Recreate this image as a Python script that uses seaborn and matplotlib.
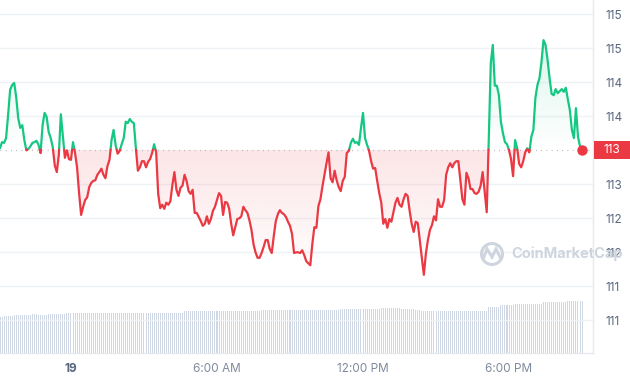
import numpy as np
import pandas as pd
import matplotlib
matplotlib.use("Agg")
import matplotlib.pyplot as plt
import seaborn as sns
from matplotlib.path import Path
from matplotlib.patches import Rectangle, Circle, PathPatch
from matplotlib.transforms import blended_transform_factory, IdentityTransform
from matplotlib.colors import to_rgb

# precio cada 5 minutos (18 21:05 -> 19 20:55)
prices = [
    113.53, 113.62, 113.61, 113.68, 114.02, 114.39, 114.46, 114.49, 114.28, 113.97,
    113.83, 113.87, 113.65, 113.50, 113.52, 113.56, 113.61, 113.62, 113.64, 113.58,
    113.46, 113.87, 114.05, 113.99, 113.77, 113.68, 113.55, 113.28, 113.18, 113.43,
    114.03, 113.71, 113.39, 113.50, 113.37, 113.36, 113.62, 113.46, 113.25, 112.87,
    112.55, 112.67, 112.77, 112.81, 112.96, 113.02, 113.05, 113.06, 113.14, 113.18,
    113.23, 113.14, 113.09, 113.27, 113.36, 113.65, 113.80, 113.58, 113.45, 113.49,
    113.59, 113.68, 113.92, 113.90, 113.96, 113.92, 113.90, 113.53, 113.20, 113.25,
    113.34, 113.34, 113.25, 113.33, 113.37, 113.46, 113.59, 113.47, 112.86, 112.65,
    112.70, 112.64, 112.73, 112.70, 112.75, 112.99, 113.18, 112.92, 112.83, 112.95,
    112.98, 113.14, 113.05, 112.90, 112.86, 112.92, 112.58, 112.58, 112.52, 112.46,
    112.39, 112.42, 112.53, 112.42, 112.49, 112.61, 112.67, 112.77, 112.87, 112.83,
    112.55, 112.74, 112.73, 112.64, 112.42, 112.25, 112.37, 112.49, 112.50, 112.53,
    112.67, 112.62, 112.58, 112.47, 112.33, 112.12, 112.00, 111.92, 111.92, 111.99,
    112.08, 112.18, 112.18, 112.05, 111.99, 112.24, 112.46, 112.56, 112.62, 112.58,
    112.56, 112.52, 112.45, 112.39, 112.27, 111.99, 112.00, 112.00, 111.99, 112.03,
    111.96, 111.87, 111.84, 111.81, 112.12, 112.37, 112.36, 112.68, 112.78, 112.97,
    113.14, 113.31, 113.47, 113.09, 113.03, 113.20, 113.06, 112.96, 112.90, 113.05,
    113.11, 113.46, 113.49, 113.61, 113.67, 113.61, 113.62, 113.58, 113.83, 114.05,
    113.68, 113.58, 113.49, 113.34, 113.23, 113.24, 113.05, 112.87, 112.73, 112.42,
    112.49, 112.36, 112.49, 112.45, 112.59, 112.73, 112.80, 112.70, 112.67, 112.78,
    112.86, 112.83, 112.61, 112.42, 112.30, 112.45, 112.43, 112.18, 111.92, 111.67,
    111.98, 112.18, 112.33, 112.40, 112.53, 112.47, 112.78, 112.67, 112.67, 112.77,
    113.14, 113.25, 113.31, 113.25, 113.31, 113.34, 113.34, 113.06, 112.78, 112.70,
    113.17, 113.09, 112.93, 112.93, 112.87, 112.86, 112.89, 112.98, 113.18, 112.89,
    112.59, 113.65, 114.78, 115.05, 114.45, 114.45, 114.31, 113.92, 113.75, 113.62,
    113.59, 113.50, 113.37, 113.12, 113.65, 113.53, 113.30, 113.25, 113.34, 113.47,
    113.53, 113.47, 113.70, 113.80, 114.27, 114.46, 114.56, 114.80, 115.12, 115.05,
    114.83, 114.56, 114.33, 114.31, 114.40, 114.34, 114.37, 114.40, 114.36, 114.42,
    114.25, 114.09, 113.80, 113.68, 114.12, 113.70, 113.56, 113.50,
]

# volumen (M)
volumes = [
    18.2, 18.2, 18.3, 18.7, 18.7, 18.6, 18.7, 18.8, 19.0, 19.0, 19.1, 19.0,
    19.0, 19.0, 19.1, 19.0, 19.5, 19.5, 19.4, 19.0, 19.0, 19.1, 19.0, 19.0,
    19.4, 19.4, 19.3, 19.4, 19.4, 19.4, 19.3, 19.4, 19.4, 19.9, 19.9, 19.8,
    19.9, 19.9, 19.9, 19.8, 19.9, 19.9, 19.9, 19.9, 19.8, 19.9, 19.9, 19.9,
    19.9, 19.8, 19.9, 19.9, 19.9, 19.9, 19.8, 19.9, 19.9, 19.9, 19.9, 19.8,
    19.9, 19.9, 19.9, 19.9, 19.8, 19.9, 19.9, 19.9, 19.9, 19.8, 19.9, 19.9,
    19.9, 19.9, 19.8, 19.9, 19.9, 19.9, 19.9, 19.8, 19.9, 19.9, 19.9, 19.9,
    19.8, 19.9, 19.9, 19.9, 19.9, 19.9, 19.9, 21.0, 21.0, 20.9, 21.0, 21.0,
    21.0, 21.0, 20.9, 21.0, 21.0, 21.0, 21.0, 20.9, 21.0, 21.0, 21.0, 21.0,
    20.9, 21.0, 21.0, 21.0, 21.0, 20.9, 21.0, 21.0, 21.0, 21.0, 20.9, 21.0,
    21.0, 21.0, 21.0, 20.9, 21.0, 21.0, 21.0, 21.0, 20.9, 21.5, 21.5, 21.4,
    21.5, 21.5, 21.5, 21.5, 21.4, 21.5, 21.5, 21.5, 21.5, 21.4, 21.5, 21.5,
    21.5, 21.5, 21.4, 21.5, 21.5, 21.5, 21.5, 21.4, 21.5, 21.5, 21.5, 21.5,
    21.4, 21.5, 21.5, 21.5, 21.5, 21.4, 21.5, 21.5, 21.5, 21.5, 21.4, 21.5,
    22.0, 22.0, 21.9, 22.0, 22.0, 22.0, 22.0, 21.9, 22.0, 22.0, 22.0, 22.0,
    21.9, 22.0, 22.0, 22.0, 22.0, 21.9, 22.0, 22.0, 22.5, 22.5, 22.4, 22.5,
    22.5, 22.5, 22.5, 22.4, 22.5, 22.5, 22.0, 22.0, 21.9, 22.0, 22.0, 22.0,
    22.0, 21.5, 21.5, 21.5, 21.0, 21.0, 20.9, 21.0, 21.0, 21.0, 21.0, 20.9,
    21.0, 21.0, 21.0, 21.0, 20.9, 21.0, 21.0, 21.0, 21.0, 20.9, 21.0, 21.0,
    21.0, 21.0, 20.9, 21.0, 21.0, 21.0, 21.0, 20.9, 21.0, 21.0, 21.0, 21.0,
    21.0, 23.2, 23.2, 23.1, 23.2, 23.2, 23.2, 23.9, 23.9, 23.8, 23.9, 23.9,
    23.9, 23.9, 24.5, 24.5, 24.4, 24.5, 24.5, 24.5, 24.5, 24.4, 24.5, 24.5,
    24.5, 24.5, 24.4, 24.5, 25.4, 25.4, 25.3, 25.4, 25.4, 25.4, 25.4, 25.3,
    25.4, 25.4, 25.4, 25.4, 26.0, 26.0, 25.9, 26.0, 26.0, 26.0, 26.0, 26.0,
]

ref_price = 113.51
start_time = "2024-01-18 21:05"
y_ticks = [111.0, 111.5, 112.0, 112.5, 113.0, 114.0, 114.5, 115.0, 115.5]
x_tick_times = ["2024-01-19 00:00", "2024-01-19 06:00", "2024-01-19 12:00", "2024-01-19 18:00"]
x_tick_labels = ["19", "6:00 AM", "12:00 PM", "6:00 PM"]

GREEN = "#16c784"
RED = "#ea3943"
GRID = "#eff2f5"
TXT = "#58667e"

assert len(prices) == len(volumes)

times = pd.date_range(start_time, periods=len(prices), freq="5min")
idx = np.arange(len(prices))
tick_pos = [(pd.Timestamp(t) - times[0]) / pd.Timedelta("5min") for t in x_tick_times]

# insertar los cruces con la linea de referencia para partir la linea en tramos
xs, ys, cross = [], [], []
for i, p in enumerate(prices):
    if i > 0:
        a, b = prices[i - 1] - ref_price, p - ref_price
        if a * b < 0:
            xs.append(i - 1 + a / (a - b))
            ys.append(ref_price)
            cross.append(True)
    xs.append(i)
    ys.append(p)
    cross.append(False)
xs = np.array(xs)
ys = np.array(ys)

rows = []
seg = 0
up = ys[0] >= ref_price
for x, y, c in zip(xs, ys, cross):
    rows.append((x, y, seg, up))
    if c:
        seg += 1
        up = not up
        rows.append((x, y, seg, up))
line_df = pd.DataFrame(rows, columns=["x", "price", "seg", "up"])

sns.set_style("white")
plt.rcParams["font.family"] = ["Inter", "DejaVu Sans"]

fig = plt.figure(figsize=(6.3, 3.8), dpi=100)
rect = [0, 27 / 380, 593 / 630, 353 / 380]
x_max = 593 / 2.028
y_min, y_max = 110.52, 115.71

# volumen en ejes propios, debajo
ax_vol = fig.add_axes(rect)
sns.barplot(x=idx, y=volumes, native_scale=True, width=0.5, color="#cfd6e4",
            saturation=1, edgecolor="none", linewidth=0, ax=ax_vol)
for bar in ax_vol.patches:
    bar.set_snap(True)
ax_vol.set_xlim(0, x_max)
ax_vol.set_ylim(0, 353 * 0.5)
ax_vol.axis("off")

ax = fig.add_axes(rect)
ax.patch.set_visible(False)

# relleno degradado
def gradient_fill(mask, lo, hi, a_lo, a_hi, color):
    poly = ax.fill_between(xs, ys, ref_price, where=mask, interpolate=True,
                           facecolor="none", edgecolor="none")
    img = np.zeros((256, 1, 4))
    img[:, 0, :3] = to_rgb(color)
    img[:, 0, 3] = np.linspace(a_lo, a_hi, 256)
    im = ax.imshow(img, extent=(0, x_max, lo, hi), origin="lower",
                   aspect="auto", zorder=1, interpolation="bilinear")
    clip = Path.make_compound_path(*poly.get_paths())
    im.set_clip_path(clip, transform=ax.transData)

gradient_fill(ys >= ref_price, ref_price, 115.2, 0.0, 0.16, GREEN)
gradient_fill(ys <= ref_price, 111.6, ref_price, 0.0, 0.13, RED)

# linea de precio en dos colores
sns.lineplot(data=line_df[line_df["up"]], x="x", y="price", units="seg",
             estimator=None, sort=False, color=GREEN, lw=1.6, ax=ax, zorder=3)
sns.lineplot(data=line_df[~line_df["up"]], x="x", y="price", units="seg",
             estimator=None, sort=False, color=RED, lw=1.6, ax=ax, zorder=3)

ax.axhline(ref_price, color="#a1a7bb", lw=0.9, ls=(0, (0.6, 3.6)), zorder=2)
ax.plot(idx[-1], prices[-1], "o", color=RED, ms=6.5, zorder=4)

ax.set_xlim(0, x_max)
ax.set_ylim(y_min, y_max)

ax.set_yticks(y_ticks)
ax.set_yticklabels([str(int(np.floor(v))) for v in y_ticks])
ax.yaxis.tick_right()
ax.tick_params(axis="y", length=0, pad=9, labelsize=8.5, labelcolor=TXT)
ax.grid(axis="y", color=GRID, lw=1)
ax.set_axisbelow(True)

ax.set_xticks(tick_pos)
ax.set_xticklabels(x_tick_labels)
ax.tick_params(axis="x", length=0, pad=7, labelsize=8.5, labelcolor="#808a9d")
ax.get_xticklabels()[0].set_fontweight("bold")
ax.get_xticklabels()[0].set_color(TXT)
ax.set_xlabel("")
ax.set_ylabel("")

for name, s in ax.spines.items():
    s.set_visible(name in ("right", "bottom"))
    s.set_color("#e6e9ee")
    s.set_linewidth(1)

# etiqueta del precio actual
tr = blended_transform_factory(ax.transAxes, ax.transData)
badge_h = 18 / 68
ax.add_patch(Rectangle((1 + 1 / 593, ref_price - badge_h / 2), 36 / 593, badge_h,
                       transform=tr, facecolor=RED, edgecolor="none",
                       clip_on=False, zorder=5))
ax.text(1 + 19 / 593, ref_price, "113", transform=tr, ha="center", va="center",
        color="white", fontsize=8.5, zorder=6, clip_on=False)

# marca de agua
wm = "#cfd5de"
fig.add_artist(Circle((492, 380 - 254), 10.5, transform=IdentityTransform(),
                      fill=False, ec=wm, lw=2.2))
wave = Path([(483, 121), (487, 131), (492, 123), (496, 131), (501, 121)])
fig.add_artist(PathPatch(wave, transform=IdentityTransform(), fill=False,
                         ec=wm, lw=2.2))
fig.text(511 / 630, 1 - 254 / 380, "CoinMarketCap", ha="left", va="center",
         color=wm, fontsize=10.5, fontweight="bold")

fig.savefig("out.png", dpi=100)
